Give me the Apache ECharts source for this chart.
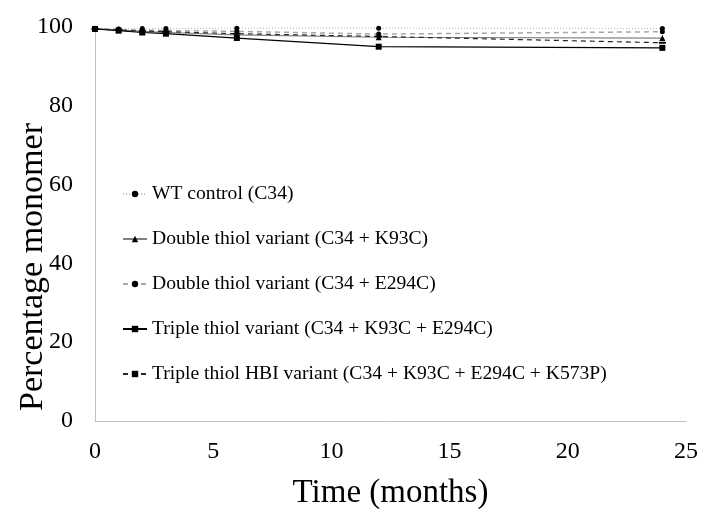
<!DOCTYPE html>
<html>
<head>
	<meta charset="utf-8">
	<title>Percentage monomer</title>
	<script type="text/javascript" src="https://cdn.jsdelivr.net/npm/echarts@6/dist/echarts.min.js"></script>
</head>
<style type="text/css">
body {
	margin: 0;
	width: 703px;
	height: 510px;
	background: #fff;
}

#chart {
	width: 703px;
	height: 510px;
}
</style>
<body>
	<div id="chart"></div>
</body>

<script type="text/javascript">
	// 时间点（月）
	var months = [0, 1, 2, 3, 6, 12, 24];

	var names = [
		'WT control (C34)',
		'Double thiol variant (C34 + K93C)',
		'Double thiol variant (C34 + E294C)',
		'Triple thiol variant (C34 + K93C + E294C)',
		'Triple thiol HBI variant (C34 + K93C + E294C + K573P)'
	];

	var wt = [99.7, 99.5, 99.6, 99.6, 99.7, 99.7, 99.6];
	var k93c = [99.5, 99.2, 98.9, 98.6, 98.0, 97.4, 97.2];
	var e294c = [99.6, 99.4, 99.2, 99.1, 98.9, 98.2, 98.8];
	var triple = [99.5, 99.1, 98.6, 98.3, 97.2, 95.0, 94.7];
	var hbi = [99.5, 99.2, 99.0, 98.8, 98.3, 97.6, 96.0];

	var xTicks = [0, 5, 10, 15, 20, 25];
	var yTicks = [0, 20, 40, 60, 80, 100];

	function pairs(ys) {
		var out = [];
		for (var i = 0; i < months.length; i++) {
			out.push([months[i], ys[i]]);
		}
		return out;
	}

	var serif = 'Liberation Serif';

	var Chart = echarts.init(document.getElementById('chart'));

	var option = {
		animation: false,
		grid: {
			left: 95,
			right: 17,
			top: 27,
			bottom: 89,
			containLabel: false,
			outerBoundsMode: 'none'
		},
		legend: {
			orient: 'vertical',
			left: 117,
			top: 179,
			itemGap: 25,
			itemWidth: 24,
			itemHeight: 8,
			textStyle: {
				fontFamily: serif,
				fontSize: 19.6,
				color: '#000'
			},
			data: names
		},
		xAxis: {
			type: 'value',
			min: 0,
			max: 25,
			interval: 5,
			name: 'Time (months)',
			nameLocation: 'middle',
			nameGap: 56,
			nameMoveOverlap: false,
			nameTextStyle: { fontFamily: serif, fontSize: 33, color: '#000' },
			axisLine: { lineStyle: { color: '#bfbfbf', width: 1 } },
			axisTick: { show: false },
			splitLine: { show: false },
			axisLabel: {
				fontFamily: serif, fontSize: 24, color: '#000', margin: 19,
				formatter: function (v) { return xTicks.indexOf(v) >= 0 ? v : ''; }
			}
		},
		yAxis: {
			type: 'value',
			min: 0,
			max: 100,
			interval: 20,
			name: 'Percentage monomer',
			nameLocation: 'middle',
			nameGap: 45,
			nameMoveOverlap: false,
			nameTextStyle: { fontFamily: serif, fontSize: 34, color: '#000', padding: [0, 86, 0, 0] },
			axisLine: { show: true, lineStyle: { color: '#bfbfbf', width: 1 } },
			axisTick: { show: false },
			splitLine: { show: false },
			axisLabel: {
				fontFamily: serif, fontSize: 24, color: '#000', margin: 22,
				formatter: function (v) { return yTicks.indexOf(v) >= 0 ? v : ''; }
			}
		},
		series: [
			{
				name: names[0],
				type: 'line',
				data: pairs(wt),
				symbol: 'circle',
				symbolSize: 5,
				itemStyle: { color: '#000' },
				lineStyle: { color: '#bfbfbf', width: 1.2, type: [1, 2] }
			},
			{
				name: names[1],
				type: 'line',
				data: pairs(k93c),
				symbol: 'triangle',
				symbolSize: 6,
				itemStyle: { color: '#000' },
				lineStyle: { color: '#808080', width: 1.2, type: 'solid' }
			},
			{
				name: names[2],
				type: 'line',
				data: pairs(e294c),
				symbol: 'circle',
				symbolSize: 5,
				itemStyle: { color: '#000' },
				lineStyle: { color: '#a6a6a6', width: 1.5, type: [5, 4] }
			},
			{
				name: names[3],
				type: 'line',
				data: pairs(triple),
				symbol: 'rect',
				symbolSize: 6,
				itemStyle: { color: '#000' },
				lineStyle: { color: '#000', width: 1.2, type: 'solid' }
			},
			{
				name: names[4],
				type: 'line',
				data: pairs(hbi),
				symbol: 'rect',
				symbolSize: [7, 2],
				itemStyle: { color: '#000' },
				lineStyle: { color: '#262626', width: 1.2, type: [5, 4] }
			}
		]
	};

	Chart.setOption(option);
</script>
</html>
